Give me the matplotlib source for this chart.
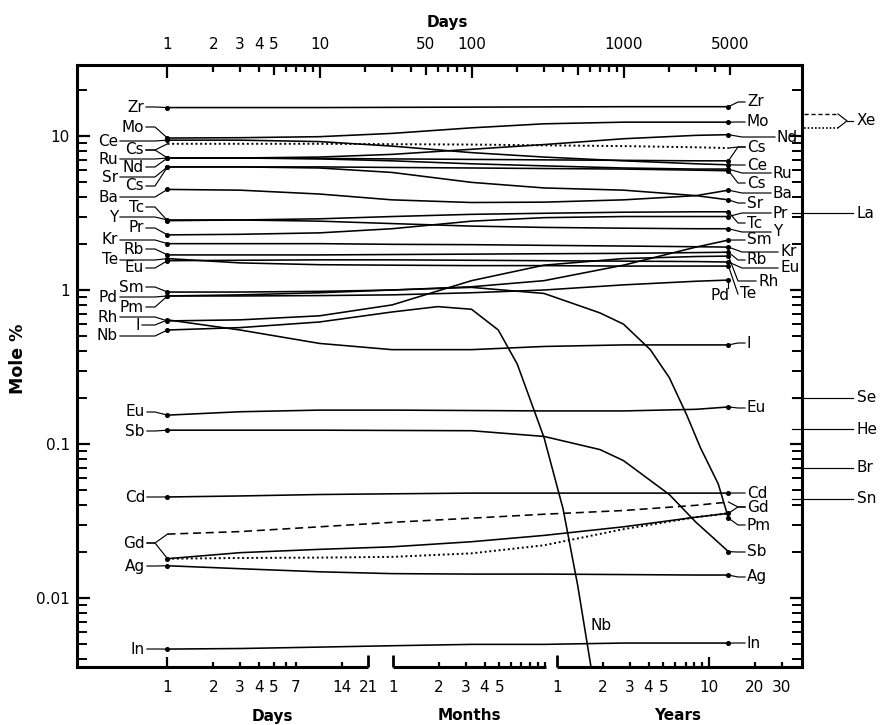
import matplotlib
matplotlib.use("Agg")
import matplotlib.pyplot as plt
from matplotlib.ticker import FixedLocator, FixedFormatter, NullFormatter

plt.rcParams['font.family'] = ['DejaVu Sans']

# ---------------- data (mole %, time in days) ----------------
days = [1, 3, 10, 30, 100, 300, 1000, 3000, 4900]

Zr = [15.3, 15.3, 15.3, 15.35, 15.4, 15.45, 15.5, 15.5, 15.5]
Mo = [9.7, 9.75, 9.9, 10.4, 11.3, 12.0, 12.3, 12.3, 12.3]
Ce = [9.4, 9.4, 9.2, 8.6, 7.8, 7.3, 6.9, 6.6, 6.5]
Cs_dot = [8.9, 8.9, 8.9, 8.85, 8.8, 8.7, 8.6, 8.45, 8.35]
Cs_1 = [7.2, 7.2, 7.15, 7.1, 7.05, 7.0, 6.95, 6.9, 6.9]
Ru = [7.2, 7.2, 7.1, 6.9, 6.6, 6.4, 6.2, 6.1, 6.1]
Nd = [7.2, 7.2, 7.3, 7.6, 8.2, 8.8, 9.6, 10.1, 10.2]
Sr = [6.3, 6.3, 6.2, 5.8, 5.0, 4.6, 4.45, 4.1, 3.85]
Cs_2 = [6.3, 6.3, 6.3, 6.25, 6.2, 6.15, 6.1, 6.0, 5.95]
Ba = [4.5, 4.45, 4.2, 3.85, 3.7, 3.72, 3.85, 4.1, 4.45]
Tc = [2.82, 2.85, 2.9, 3.0, 3.1, 3.15, 3.2, 3.22, 3.22]
Y = [2.85, 2.85, 2.8, 2.7, 2.6, 2.55, 2.52, 2.5, 2.5]
Pr = [2.28, 2.3, 2.35, 2.5, 2.8, 2.95, 3.0, 3.0, 3.0]
Kr = [2.0, 2.0, 2.0, 1.98, 1.97, 1.95, 1.93, 1.91, 1.9]
Rb = [1.69, 1.69, 1.69, 1.7, 1.71, 1.72, 1.73, 1.75, 1.76]
Te = [1.6, 1.5, 1.46, 1.45, 1.44, 1.44, 1.43, 1.43, 1.43]
Eu_hi = [1.55, 1.56, 1.57, 1.57, 1.56, 1.55, 1.54, 1.53, 1.52]
Sm = [0.97, 0.97, 0.98, 1.0, 1.05, 1.15, 1.45, 1.9, 2.11]
Pd = [0.915, 0.915, 0.92, 0.93, 0.96, 1.0, 1.08, 1.14, 1.16]
Rh = [0.63, 0.64, 0.68, 0.8, 1.15, 1.45, 1.6, 1.65, 1.66]
I = [0.64, 0.55, 0.45, 0.41, 0.41, 0.43, 0.44, 0.44, 0.44]
Eu_lo = [0.154, 0.162, 0.166, 0.166, 0.165, 0.164, 0.164, 0.168, 0.174]
Cd = [0.0453, 0.046, 0.047, 0.0475, 0.048, 0.048, 0.048, 0.048, 0.048]
Gd_dash = [0.026, 0.027, 0.029, 0.031, 0.033, 0.035, 0.037, 0.040, 0.042]
Gd_solid = [0.018, 0.0197, 0.0207, 0.0215, 0.0232, 0.0255, 0.029, 0.0335, 0.0355]
Gd_dot = [0.018, 0.0182, 0.0183, 0.0185, 0.0195, 0.022, 0.028, 0.0335, 0.0355]
Ag = [0.0162, 0.0155, 0.0148, 0.0144, 0.0143, 0.0143, 0.0142, 0.0141, 0.0141]
In = [0.00466, 0.0047, 0.0048, 0.0049, 0.005, 0.005, 0.0051, 0.0051, 0.0051]

pm_days = [1, 3, 10, 30, 100, 300, 700, 1000, 1500, 2000, 2600, 3200, 4200, 4900]
Pm = [0.915, 0.93, 0.96, 1.0, 1.04, 0.95, 0.71, 0.6, 0.41, 0.27, 0.155, 0.095, 0.055, 0.033]
nb_days = [1, 3, 10, 30, 60, 100, 150, 200, 300, 400, 500, 610]
Nb = [0.55, 0.57, 0.62, 0.72, 0.78, 0.75, 0.55, 0.33, 0.11, 0.038, 0.012, 0.0036]
sb_days = [1, 10, 100, 300, 700, 1000, 2000, 3000, 4000, 4900]
Sb = [0.123, 0.123, 0.122, 0.112, 0.092, 0.078, 0.047, 0.031, 0.024, 0.020]

side_names = ['La', 'Se', 'He', 'Br', 'Sn']
side_values = [3.16, 0.20, 0.125, 0.070, 0.044]
xe_values = [13.9, 11.3]          # dashed, dotted

top_ticks = [1, 2, 3, 4, 5, 10, 50, 100, 1000, 5000]
day_ticks = [1, 2, 3, 4, 5, 7, 14, 21]
month_ticks = [1, 2, 3, 4, 5]
year_ticks = [1, 2, 3, 4, 5, 10, 20, 30]
y_ticks = [0.01, 0.1, 1, 10]
y_ticklabels = ['0.01', '0.1', '1', '10']

# ---------------- figure ----------------
W, H = 882, 725
L, R, T, B = 77, 802, 64.5, 667
fig = plt.figure(figsize=(W / 100, H / 100), dpi=100)
ax = fig.add_axes([L / W, 1 - B / H, (R - L) / W, (B - T) / H])
ax.set_xscale('log')
ax.set_yscale('log')
ax.set_xlim(0.2539, 14930)
ax.set_ylim(0.003565, 29.13)

FS = 11
LW = 1.15


def px2ax(px, py):
    return ((px - L) / (R - L), (B - py) / (B - T))


def d2ax(x, y):
    return tuple(ax.transLimits.transform(ax.transScale.transform((x, y))))


def pline(pts, **kw):
    xs = [p[0] for p in pts]
    ys = [p[1] for p in pts]
    kw.setdefault('color', 'black')
    kw.setdefault('lw', 0.85)
    ax.plot(xs, ys, transform=ax.transAxes, clip_on=False, **kw)


def txt(px, py, s, ha='left', **kw):
    x, y = px2ax(px, py)
    ax.text(x, y, s, transform=ax.transAxes, ha=ha, va='center',
            fontsize=kw.pop('fontsize', FS), clip_on=False, **kw)


# ---------------- curves ----------------
solid = [Zr, Mo, Ce, Cs_1, Ru, Nd, Sr, Cs_2, Ba, Tc, Y, Pr, Kr, Rb, Te, Eu_hi,
         Sm, Pd, Rh, I, Eu_lo, Cd, Gd_solid, Ag, In]
for s in solid:
    ax.plot(days, s, color='black', lw=LW, marker='o', ms=2.6, markevery=[0, len(s) - 1])
ax.plot(pm_days, Pm, color='black', lw=LW, marker='o', ms=2.6, markevery=[0, len(Pm) - 1])
ax.plot(nb_days, Nb, color='black', lw=LW, marker='o', ms=2.6, markevery=[0])
ax.plot(sb_days, Sb, color='black', lw=LW, marker='o', ms=2.6, markevery=[0, len(Sb) - 1])
ax.plot(days, Cs_dot, color='black', lw=1.4, ls=(0, (1, 1.4)))
ax.plot(days, Gd_dot, color='black', lw=1.4, ls=(0, (1, 1.4)))
ax.plot(days, Gd_dash, color='black', lw=LW, ls=(0, (5, 3)))

# ---------------- left labels with leaders ----------------
XB = 155
left_labels = [
    ('Zr', 144, 107, [Zr]), ('Mo', 144, 127, [Mo]), ('Ce', 118, 141, [Ce]),
    ('Cs', 144, 150, [Cs_dot, Cs_1]), ('Ru', 118, 159, [Ru]), ('Nd', 144, 167, [Nd]),
    ('Sr', 118, 177, [Sr]), ('Cs', 144, 186, [Cs_2]), ('Ba', 118, 197, [Ba]),
    ('Tc', 144, 207, [Tc]), ('Y', 118, 217, [Y]), ('Pr', 144, 228, [Pr]),
    ('Kr', 118, 240, [Kr]), ('Rb', 144, 249, [Rb]), ('Te', 118, 260, [Te]),
    ('Eu', 144, 268, [Eu_hi]), ('Sm', 144, 287, [Sm]), ('Pd', 118, 297, [Pd]),
    ('Pm', 144, 307, [Pm]), ('Rh', 118, 317, [Rh]), ('I', 140, 325, [I]),
    ('Nb', 118, 336, [Nb]), ('Eu', 145, 412, [Eu_lo]), ('Sb', 145, 431, [Sb]),
    ('Cd', 145, 497, [Cd]), ('Gd', 145, 543, [Gd_dash, Gd_solid]),
    ('Ag', 145, 566, [Ag]), ('In', 145, 649, [In]),
]
for name, xr, ly, targets in left_labels:
    txt(xr, ly, name, ha='right')
    for tgt in targets:
        p0 = px2ax(xr + 2, ly)
        p1 = px2ax(XB, ly)
        p2 = d2ax(1, tgt[0])
        pline([p0, p1, p2])

# ---------------- right labels with leaders ----------------
XE = 738
right_labels = [
    ('Zr', 747, 102, [Zr]), ('Mo', 747, 122, [Mo]), ('Nd', 777, 137, [Nd]),
    ('Cs', 747, 147, [Cs_dot, Cs_1]), ('Ce', 747, 165, [Ce]), ('Ru', 773, 173, [Ru]),
    ('Cs', 747, 183, [Cs_2]), ('Ba', 773, 193, [Ba]), ('Sr', 747, 203, [Sr]),
    ('Pr', 773, 213, [Pr]), ('Tc', 747, 223, [Tc]), ('Y', 773, 232, [Y]),
    ('Sm', 747, 240, [Sm]), ('Kr', 780, 252, [Kr]), ('Rb', 747, 260, [Rb]),
    ('Eu', 780, 268, [Eu_hi]), ('Rh', 758, 281, [Rh]), ('Te', 740, 294, [Te]),
    ('I', 747, 343, [I]), ('Eu', 747, 408, [Eu_lo]), ('Cd', 747, 493, [Cd]),
    ('Gd', 747, 507, [Gd_dash, Gd_solid]), ('Pm', 747, 525, [Pm]),
    ('Sb', 747, 552, [Sb]), ('Ag', 747, 577, [Ag]), ('In', 747, 643, [In]),
]
for name, xl, ly, targets in right_labels:
    txt(xl, ly, name, ha='left')
    for tgt in targets:
        xend = 4900
        p0 = d2ax(xend, tgt[-1])
        p1 = px2ax(XE if xl < 760 else XE + 4, ly)
        p2 = px2ax(xl - 2, ly)
        pline([p0, p1, p2])
# Pd label below its end point
txt(710, 295, 'Pd', ha='left')
p0 = d2ax(4900, Pd[-1])
pline([p0, (p0[0], px2ax(0, 288)[1])])
# Nb label at the foot of its curve
txt(590, 625, 'Nb', ha='left')

# ---------------- side annotations outside the frame ----------------
for name, v in zip(side_names, side_values):
    y = d2ax(1, v)[1]
    pline([(px2ax(792, 0)[0], y), (px2ax(853, 0)[0], y)])
    ax.text(px2ax(857, 0)[0], y, name, transform=ax.transAxes, ha='left',
            va='center', fontsize=FS, clip_on=False)
yd = d2ax(1, xe_values[0])[1]
yo = d2ax(1, xe_values[1])[1]
ym = (yd + yo) / 2
xa, xb, xc, xd = [px2ax(p, 0)[0] for p in (804, 838, 847, 853)]
pline([(xa, yd), (xb, yd)], ls=(0, (3, 2)), lw=1.0)
pline([(xa, yo), (xb, yo)], ls=(0, (1, 1.2)), lw=1.2)
pline([(xb, yd), (xc, ym), (xb, yo)], lw=0.85)
pline([(xc, ym), (xd, ym)], lw=0.85)
ax.text(px2ax(857, 0)[0], ym, 'Xe', transform=ax.transAxes, ha='left',
        va='center', fontsize=FS, clip_on=False)

# ---------------- axes / ticks ----------------
for sp in ['left', 'right', 'top']:
    ax.spines[sp].set_linewidth(2.2)
ax.spines['bottom'].set_visible(False)

ax.tick_params(axis='x', which='both', bottom=False, top=False,
               labelbottom=False, labeltop=False)
ax.yaxis.set_major_locator(FixedLocator(y_ticks))
ax.yaxis.set_major_formatter(FixedFormatter(y_ticklabels))
ax.yaxis.set_minor_formatter(NullFormatter())
ax.tick_params(axis='y', which='major', direction='in', left=True, right=True,
               length=9, width=1.6, labelsize=FS, pad=5)
ax.tick_params(axis='y', which='minor', direction='in', left=True, right=True,
               length=7, width=1.4)

H_AX = B - T


def vtick(x, y0f, length_px, up=True, lw=1.6):
    dy = length_px / H_AX
    xf = d2ax(x, 1)[0]
    y1 = y0f + dy if up else y0f - dy
    pline([(xf, y0f), (xf, y1)], lw=lw, solid_capstyle='butt')


# top ticks (pointing down)
for dec in [1, 10, 100, 1000]:
    for m in range(1, 10):
        v = dec * m
        if v > 5000:
            continue
        ln = 13 if m == 1 else (10 if m == 5 else 7)
        vtick(v, 1.0, ln, up=False)
for v in top_ticks:
    xf = d2ax(v, 1)[0]
    ax.text(xf, px2ax(0, 45)[1], str(v), transform=ax.transAxes, ha='center',
            va='center', fontsize=FS)
ax.text(px2ax(447, 0)[0], px2ax(0, 22)[1], 'Days', transform=ax.transAxes,
        ha='center', va='center', fontsize=11, fontweight='bold')

# bottom broken axis
MONTH = 30.44
YEAR = 365.25
seg_days = (0.2539, 21)
seg_months = (1 * MONTH, 10.2 * MONTH)
seg_years = (1 * YEAR, 14930)
for a, b in (seg_days, seg_months, seg_years):
    pline([(d2ax(a, 1)[0], 0), (d2ax(b, 1)[0], 0)], lw=2.2, solid_capstyle='butt')
vtick(21, 0, 12, lw=2.0)
vtick(MONTH, 0, 12, lw=2.0)
vtick(YEAR, 0, 12, lw=2.0)
for d in [1, 2, 3, 4, 5, 6, 7, 14]:
    vtick(d, 0, 10 if d == 1 else 5)
for m in range(2, 11):
    vtick(m * MONTH, 0, 5)
for yv in [2, 3, 4, 5, 6, 7, 8, 9, 10, 20, 30]:
    vtick(yv * YEAR, 0, 10 if yv == 10 else 5)

yl = px2ax(0, 688)[1]
for d in day_ticks:
    ax.text(d2ax(d, 1)[0], yl, str(d), transform=ax.transAxes, ha='center', va='center', fontsize=FS)
for m in month_ticks:
    ax.text(d2ax(m * MONTH, 1)[0], yl, str(m), transform=ax.transAxes, ha='center', va='center', fontsize=FS)
for yv in year_ticks:
    ax.text(d2ax(yv * YEAR, 1)[0], yl, str(yv), transform=ax.transAxes, ha='center', va='center', fontsize=FS)
yb = px2ax(0, 716)[1]
for name, px in (('Days', 272), ('Months', 469), ('Years', 678)):
    ax.text(px2ax(px, 0)[0], yb, name, transform=ax.transAxes, ha='center',
            va='center', fontsize=11, fontweight='bold')

# y label
ax.text(px2ax(18, 0)[0], px2ax(0, 359)[1], 'Mole %', transform=ax.transAxes,
        rotation=90, ha='center', va='center', fontsize=12.5, fontweight='bold')

fig.savefig('out.png', dpi=100)
